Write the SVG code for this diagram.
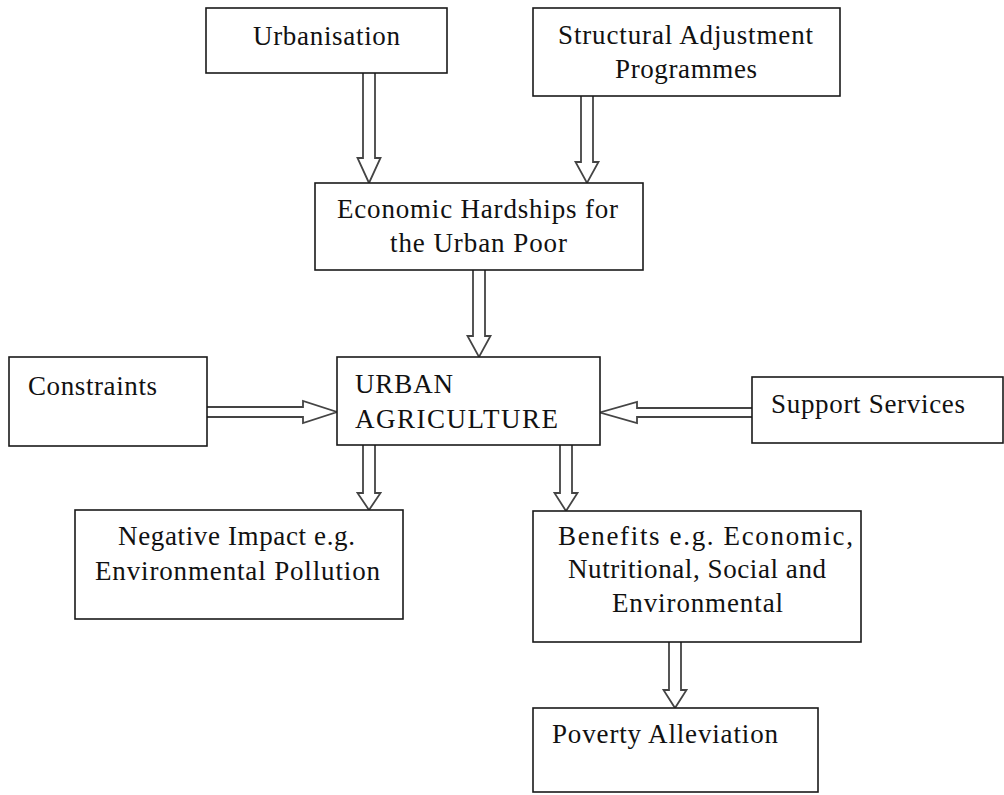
<svg xmlns="http://www.w3.org/2000/svg" width="1004" height="795" viewBox="0 0 1004 795">
<style>
.box{fill:#fff;stroke:#1a1a1a;stroke-width:1.6}
.arr{fill:#fff;stroke:#444;stroke-width:1.8;stroke-linejoin:miter}
text{font-family:"Liberation Serif","Times New Roman",serif;font-size:27px;fill:#111}
</style>
<rect width="1004" height="795" fill="#fff"/>
<g id="connectors">
<path class="arr" d="M363,73 V158 H357.5 L369,183 L380.5,158 H375 V73"/>
<path class="arr" d="M581,96 V162 H575.5 L587,183 L598.5,162 H593 V96"/>
<path class="arr" d="M473,270 V336 H467.5 L479,357 L490.5,336 H485 V270"/>
<path class="arr" d="M207,407 H303 V401 L337,412 L303,423 V417 H207"/>
<path class="arr" d="M752,408 H637 V402 L600,412.5 L637,423 V417 H752"/>
<path class="arr" d="M363,445 V493 H357.5 L369,510 L380.5,493 H375 V445"/>
<path class="arr" d="M560,445 V493 H554.5 L566,511 L577.5,493 H572 V445"/>
<path class="arr" d="M669,642 V690 H663.5 L675,708 L686.5,690 H681 V642"/>
</g>
<g id="urbanisation">
<rect class="box" x="206" y="8" width="241" height="65"/>
<text x="253" y="45" textLength="147" lengthAdjust="spacing">Urbanisation</text>
</g>
<g id="structural">
<rect class="box" x="533" y="8" width="307" height="88"/>
<text x="558" y="44" textLength="255" lengthAdjust="spacing">Structural Adjustment</text>
<text x="615" y="78" textLength="142" lengthAdjust="spacing">Programmes</text>
</g>
<g id="economic">
<rect class="box" x="315" y="183" width="328" height="87"/>
<text x="337" y="218" textLength="281" lengthAdjust="spacing">Economic Hardships for</text>
<text x="390" y="252" textLength="177" lengthAdjust="spacing">the Urban Poor</text>
</g>
<g id="urban-agriculture">
<rect class="box" x="337" y="357" width="263" height="88"/>
<text x="355" y="393" textLength="98" lengthAdjust="spacing">URBAN</text>
<text x="355" y="428" textLength="203" lengthAdjust="spacing">AGRICULTURE</text>
</g>
<g id="constraints">
<rect class="box" x="9" y="357" width="198" height="89"/>
<text x="28" y="395" textLength="129" lengthAdjust="spacing">Constraints</text>
</g>
<g id="support">
<rect class="box" x="752" y="377" width="251" height="66"/>
<text x="771" y="413" textLength="194" lengthAdjust="spacing">Support Services</text>
</g>
<g id="negative">
<rect class="box" x="75" y="510" width="328" height="109"/>
<text x="118" y="545" textLength="237" lengthAdjust="spacing">Negative Impact e.g.</text>
<text x="95" y="580" textLength="285" lengthAdjust="spacing">Environmental Pollution</text>
</g>
<g id="benefits">
<rect class="box" x="533" y="511" width="328" height="131"/>
<text x="558" y="545" textLength="295" lengthAdjust="spacing">Benefits e.g. Economic,</text>
<text x="568" y="578" textLength="258" lengthAdjust="spacing">Nutritional, Social and</text>
<text x="612" y="612" textLength="171" lengthAdjust="spacing">Environmental</text>
</g>
<g id="poverty">
<rect class="box" x="533" y="708" width="285" height="84"/>
<text x="552" y="743" textLength="226" lengthAdjust="spacing">Poverty Alleviation</text>
</g>
</svg>
